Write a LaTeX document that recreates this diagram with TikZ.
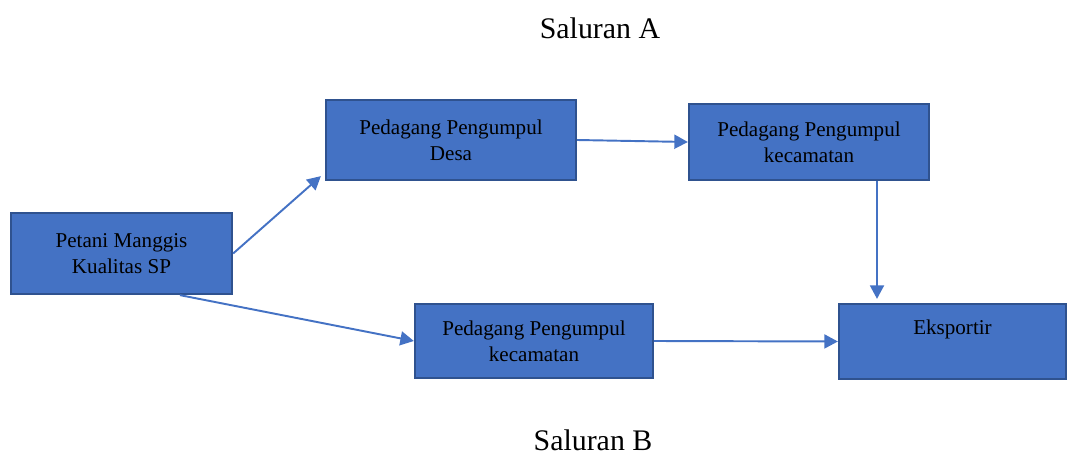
\documentclass[tikz,border=0pt]{standalone}
\usepackage{fontspec}
\setmainfont{Liberation Serif}
\usepackage{tikz}
\usetikzlibrary{arrows.meta,positioning,calc}
\definecolor{boxblue}{HTML}{4472C4}
\definecolor{edgeblue}{HTML}{2F528F}

\tikzset{
  stage/.style={draw=edgeblue,fill=boxblue,line width=1.3pt,align=center,
    font=\fontsize{12}{14.6}\selectfont,inner sep=0pt},
  flow/.style={draw=boxblue,line width=1.1pt,
    -{Triangle[length=2.7mm,width=2.8mm]}},
  title/.style={font=\fontsize{17}{20}\selectfont}
}

\begin{document}
\begin{tikzpicture}
  \useasboundingbox (0,0) rectangle (21.34,-9.10);
  % Titles
  \node[title] (salA) at (12.00,-0.56) {Saluran A};
  \node[title] (salB) at (11.86,-8.80) {Saluran B};
  % Stages
  \node[stage,minimum width=4.42cm,minimum height=1.62cm] (petani) at (2.43,-5.07)
    {Petani Manggis\\Kualitas SP};
  \node[stage,minimum width=5.00cm,minimum height=1.60cm] (desa) at (9.02,-2.80)
    {Pedagang Pengumpul\\Desa};
  \node[stage,minimum width=4.80cm,minimum height=1.52cm] (tkec) at (16.18,-2.84)
    {Pedagang Pengumpul\\kecamatan};
  \node[stage,minimum width=4.76cm,minimum height=1.48cm] (bkec) at (10.68,-6.82)
    {Pedagang Pengumpul\\kecamatan};
  \node[stage,minimum width=4.54cm,minimum height=1.50cm,text depth=16pt] (eks) at (19.05,-6.83)
    {Eksportir};
  % Saluran A
  \draw[flow] (petani.east) -- ([shift={(-0.08,0.10)}]desa.south west);
  \draw[flow] (desa.east) -- (tkec.west);
  \draw[flow] ([xshift=1.36cm]tkec.south) -- ([xshift=1.36cm,yshift=0.08cm]tkec.south |- eks.north);
  % Saluran B
  \draw[flow] ([xshift=1.17cm]petani.south) -- (bkec.west);
  \draw[flow] (bkec.east) -- (eks.west);
\end{tikzpicture}
\end{document}
